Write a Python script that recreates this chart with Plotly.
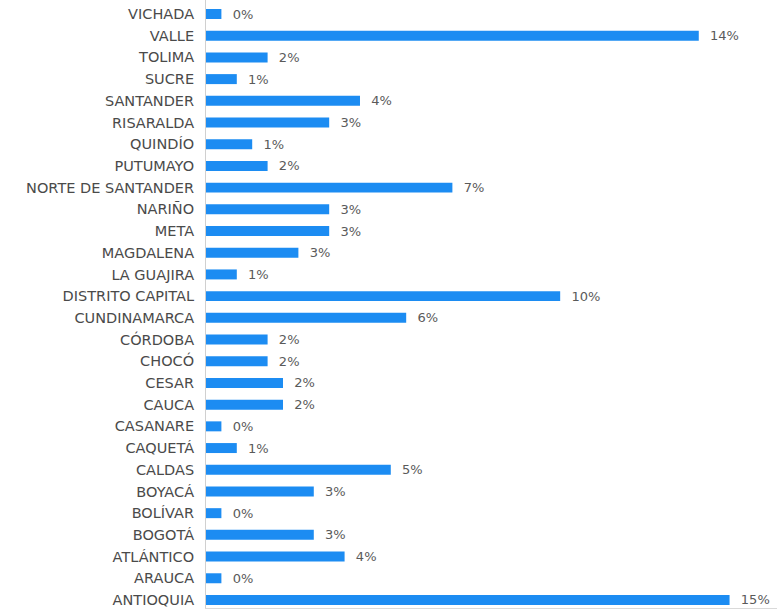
import plotly.graph_objects as go

# Departments, bottom to top as drawn on the category axis
departments = [
    "ANTIOQUIA", "ARAUCA", "ATLÁNTICO", "BOGOTÁ", "BOLÍVAR", "BOYACÁ",
    "CALDAS", "CAQUETÁ", "CASANARE", "CAUCA", "CESAR", "CHOCÓ", "CÓRDOBA",
    "CUNDINAMARCA", "DISTRITO CAPITAL", "LA GUAJIRA", "MAGDALENA", "META",
    "NARIÑO", "NORTE DE SANTANDER", "PUTUMAYO", "QUINDÍO", "RISARALDA",
    "SANTANDER", "SUCRE", "TOLIMA", "VALLE", "VICHADA",
]
# Number of records per department
counts = [
    34, 1, 9, 7, 1, 7,
    12, 2, 1, 5, 5, 4, 4,
    13, 23, 2, 6, 8,
    8, 16, 4, 3, 8,
    10, 2, 4, 32, 1,
]

total = sum(counts)
share_labels = ["  {:.0f}%".format(round(c / total * 100)) for c in counts]

FONT = "DejaVu Sans, Verdana, sans-serif"

fig = go.Figure(
    go.Bar(
        x=counts,
        y=departments,
        orientation="h",
        marker=dict(color="#1C8CF2", line=dict(width=0)),
        text=share_labels,
        textposition="outside",
        constraintext="none",
        cliponaxis=False,
        textfont=dict(family=FONT, size=13, color="#5a5a5a"),
        hoverinfo="x+y",
    )
)

fig.update_layout(
    width=777,
    height=612,
    margin=dict(l=206, r=0, t=0, b=4),
    paper_bgcolor="white",
    plot_bgcolor="white",
    bargap=0.54,
    showlegend=False,
    font=dict(family=FONT, size=14, color="#4a4a4a"),
    xaxis=dict(
        range=[0, 37.08],
        showgrid=False,
        zeroline=False,
        showticklabels=False,
        showline=True,
        linecolor="#d9d9d9",
        linewidth=1,
    ),
    yaxis=dict(
        type="category",
        range=[-0.37, 27.645],
        showgrid=False,
        zeroline=False,
        showline=True,
        linecolor="#d0d0d0",
        linewidth=1,
        ticks="",
        ticklabelstandoff=8,
        tickfont=dict(family=FONT, size=14.5, color="#4a4a4a"),
    ),
)

fig.write_html("out.html")
